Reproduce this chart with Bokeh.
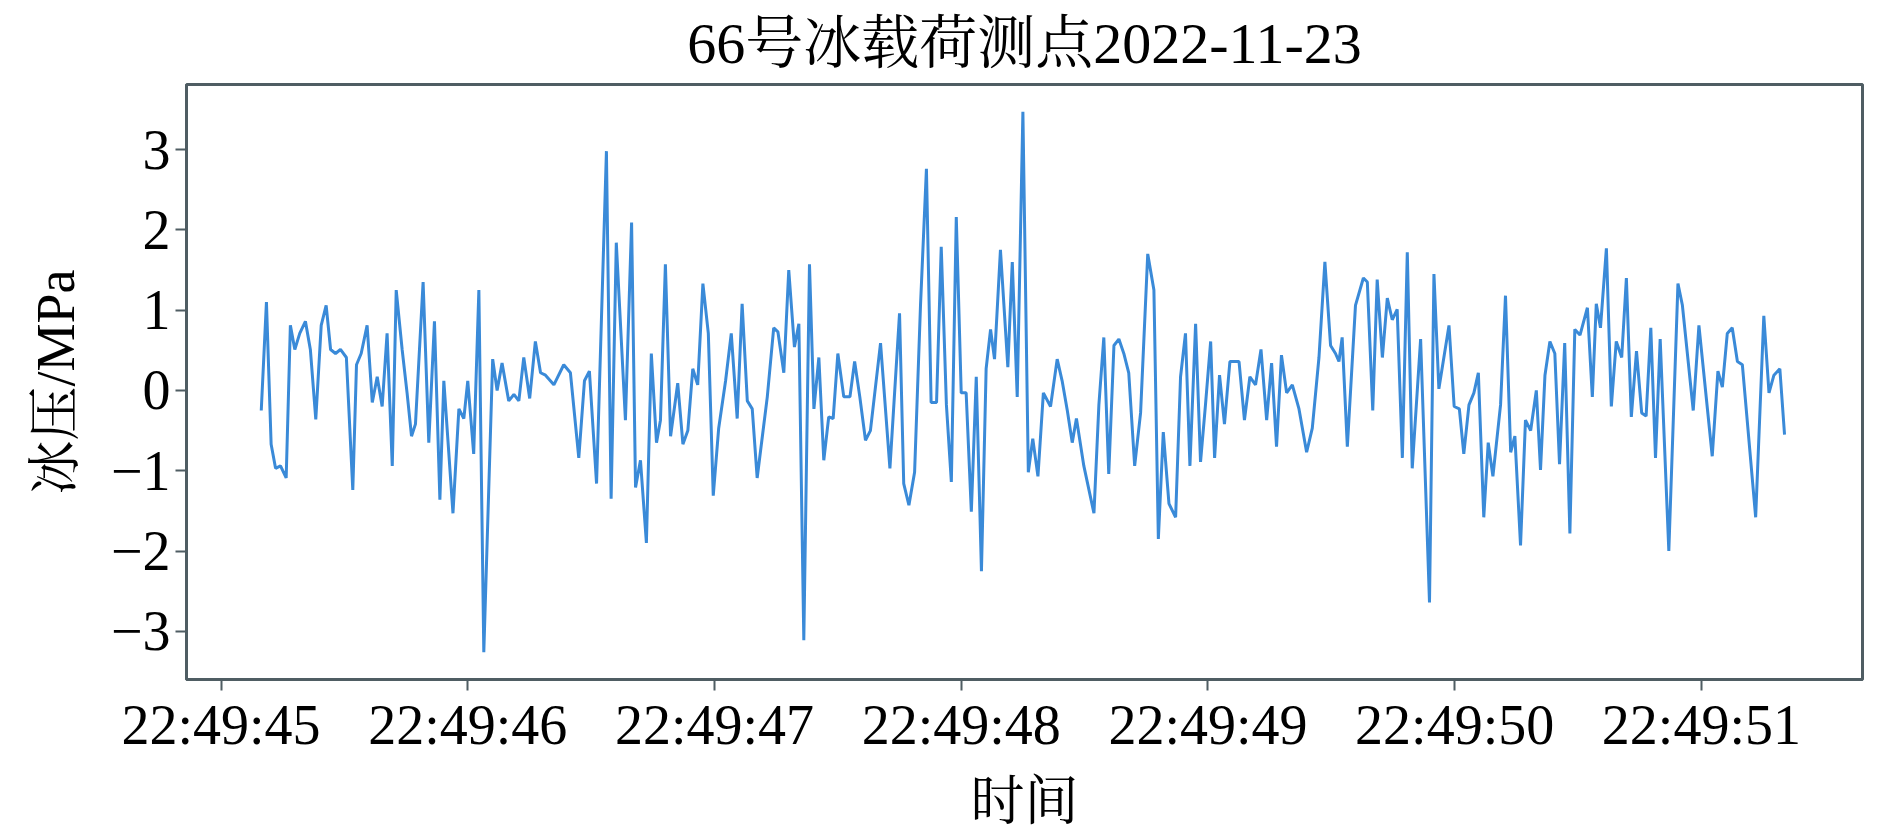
import pandas as pd
from bokeh.plotting import figure
from bokeh.models import Range1d, FixedTicker, DatetimeTickFormatter, CustomJSTickFormatter
from bokeh.embed import file_html
from bokeh.resources import INLINE

# ---- data ----
title_text = "66号冰载荷测点2022-11-23"
x_label = "时间"
y_label = "冰压/MPa"
base_time = "2022-11-23 22:49:45"
tick_seconds = [0, 1, 2, 3, 4, 5, 6]          # 22:49:45 ... 22:49:51
y_ticks = [-3, -2, -1, 0, 1, 2, 3]

# sample times, ms after 22:49:45
t_ms = [163, 184, 203, 221, 241, 264, 281, 299, 319, 342, 362, 384, 406, 426, 444, 464, 484, 508, 534, 549,
        568, 592, 613, 633, 653, 673, 694, 710, 734, 754, 772, 788, 819, 842, 865, 887, 903, 940, 964, 984,
        1000, 1024, 1045, 1065, 1101, 1119, 1139, 1166, 1187, 1207, 1227, 1251, 1274, 1295, 1315, 1349, 1389, 1416, 1450, 1473,
        1493, 1522, 1562, 1581, 1602, 1639, 1664, 1680, 1700, 1724, 1744, 1765, 1781, 1801, 1822, 1851, 1872, 1892, 1912, 1932,
        1953, 1975, 1995, 2017, 2045, 2068, 2092, 2112, 2133, 2153, 2173, 2214, 2240, 2257, 2281, 2301, 2324, 2342, 2362, 2385,
        2403, 2423, 2443, 2463, 2481, 2500, 2524, 2549, 2568, 2589, 2612, 2632, 2673, 2711, 2750, 2767, 2788, 2811, 2835, 2859,
        2878, 2900, 2919, 2940, 2960, 2980, 3000, 3020, 3041, 3061, 3082, 3101, 3119, 3135, 3159, 3189, 3207, 3227, 3250, 3272,
        3290, 3311, 3333, 3362, 3389, 3409, 3430, 3450, 3467, 3497, 3538, 3558, 3578, 3598, 3619, 3639, 3659, 3679, 3703, 3727,
        3756, 3781, 3799, 3819, 3842, 3869, 3889, 3909, 3927, 3950, 3970, 3990, 4011, 4027, 4047, 4067, 4089, 4126, 4148, 4170,
        4193, 4215, 4238, 4258, 4278, 4298, 4319, 4342, 4369, 4400, 4423, 4450, 4474, 4497, 4517, 4531, 4544, 4565, 4598, 4630,
        4646, 4668, 4686, 4707, 4727, 4747, 4767, 4788, 4808, 4828, 4862, 4898, 4916, 4936, 4977, 4998, 5019, 5037, 5058, 5078,
        5096, 5118, 5136, 5155, 5186, 5206, 5227, 5244, 5267, 5287, 5308, 5331, 5348, 5366, 5386, 5406, 5425, 5446, 5467, 5487,
        5508, 5538, 5558, 5574, 5591, 5615, 5635, 5655, 5677, 5696, 5716, 5737, 5758, 5776, 5795, 5814, 5833, 5868, 5905, 5923,
        5967, 5990, 6044, 6067, 6085, 6105, 6125, 6146, 6166, 6220, 6253, 6274, 6294, 6318, 6337]

# ice pressure, MPa
pressure = [-0.25, 1.10, -0.67, -0.97, -0.94, -1.09, 0.81, 0.51, 0.71, 0.86, 0.51, -0.36, 0.81, 1.06, 0.51, 0.46, 0.51, 0.41, -1.24, 0.32,
            0.46, 0.81, -0.15, 0.17, -0.20, 0.71, -0.94, 1.25, 0.51, -0.03, -0.57, -0.42, 1.35, -0.65, 0.86, -1.36, 0.12, -1.53, -0.23, -0.35,
            0.12, -0.79, 1.25, -3.26, 0.39, 0.00, 0.34, -0.13, -0.05, -0.13, 0.41, -0.10, 0.61, 0.22, 0.19, 0.07, 0.32, 0.22, -0.84, 0.12,
            0.24, -1.16, 2.98, -1.35, 1.84, -0.37, 2.09, -1.21, -0.87, -1.90, 0.46, -0.65, -0.37, 1.57, -0.57, 0.09, -0.67, -0.50, 0.27, 0.07,
            1.33, 0.71, -1.31, -0.47, 0.12, 0.71, -0.35, 1.08, -0.13, -0.23, -1.09, -0.08, 0.78, 0.73, 0.22, 1.50, 0.54, 0.83, -3.11, 1.57,
            -0.23, 0.41, -0.87, -0.33, -0.35, 0.46, -0.08, -0.08, 0.36, -0.08, -0.62, -0.50, 0.59, -0.97, 0.96, -1.16, -1.43, -1.02, 1.06, 2.76,
            -0.15, -0.15, 1.79, -0.18, -1.14, 2.16, -0.03, -0.03, -1.51, 0.17, -2.25, 0.27, 0.76, 0.39, 1.75, 0.29, 1.60, -0.08, 3.47, -1.02,
            -0.60, -1.07, -0.03, -0.20, 0.39, 0.12, -0.25, -0.65, -0.35, -0.94, -1.53, -0.18, 0.66, -1.04, 0.56, 0.64, 0.46, 0.22, -0.94, -0.28,
            1.70, 1.25, -1.85, -0.52, -1.41, -1.58, 0.17, 0.71, -0.94, 0.83, -0.89, -0.18, 0.61, -0.84, 0.19, -0.42, 0.36, 0.36, -0.37, 0.17,
            0.07, 0.51, -0.37, 0.34, -0.70, 0.44, -0.03, 0.07, -0.23, -0.77, -0.47, 0.41, 1.60, 0.56, 0.46, 0.36, 0.66, -0.70, 1.06, 1.40,
            1.35, -0.25, 1.38, 0.41, 1.15, 0.88, 1.01, -0.84, 1.72, -0.97, 0.64, -2.64, 1.45, 0.02, 0.81, -0.20, -0.23, -0.79, -0.18, -0.03,
            0.22, -1.58, -0.65, -1.07, -0.18, 1.18, -0.77, -0.57, -1.93, -0.37, -0.50, 0.00, -0.99, 0.19, 0.61, 0.46, -0.92, 0.59, -1.78, 0.76,
            0.69, 1.03, -0.08, 1.08, 0.78, 1.77, -0.20, 0.61, 0.41, 1.40, -0.33, 0.49, -0.28, -0.32, 0.78, -0.84, 0.64, -2.00, 1.33, 1.06,
            -0.25, 0.81, -0.82, 0.24, 0.04, 0.71, 0.78, 0.36, 0.32, -1.58, 0.93, -0.03, 0.19, 0.27, -0.55]

# ---- build ----
base = pd.Timestamp(base_time)
times = [base + pd.Timedelta(milliseconds=m) for m in t_ms]
tick_ms = [(base + pd.Timedelta(seconds=s)).value / 1e6 for s in tick_seconds]

SERIF = "Liberation Serif, Noto Serif CJK SC, Noto Sans CJK SC"

p = figure(width=1890, height=834, x_axis_type="datetime",
           output_backend="svg", toolbar_location=None,
           x_range=Range1d(base - pd.Timedelta(milliseconds=140), base + pd.Timedelta(milliseconds=6653)),
           y_range=Range1d(-3.60, 3.81))
p.min_border_left = 186
p.min_border_right = 28
p.min_border_top = 84
p.min_border_bottom = 155

p.line(times, pressure, line_color="#3a8ad8", line_width=3)

p.title.text = title_text
p.title.align = "center"
p.title.text_font = SERIF
p.title.text_font_size = "58px"
p.title.text_font_style = "normal"
p.title.text_color = "black"
p.title.standoff = 17

p.xgrid.visible = False
p.ygrid.visible = False
p.outline_line_color = "#4f5d63"
p.outline_line_width = 3

p.xaxis.ticker = FixedTicker(ticks=tick_ms)
p.xaxis.formatter = DatetimeTickFormatter(seconds="%H:%M:%S", milliseconds="%H:%M:%S",
                                          minutes="%H:%M:%S", hours="%H:%M:%S")
p.yaxis.ticker = FixedTicker(ticks=y_ticks)
p.yaxis.formatter = CustomJSTickFormatter(code="return tick < 0 ? '\u2212' + Math.abs(tick) : String(tick);")

for ax in (p.xaxis[0], p.yaxis[0]):
    ax.major_label_text_font = SERIF
    ax.major_label_text_font_size = "56px"
    ax.major_label_text_color = "black"
    ax.axis_label_text_font = SERIF
    ax.axis_label_text_font_size = "54px"
    ax.axis_label_text_font_style = "normal"
    ax.axis_label_text_color = "black"
    ax.axis_line_color = "#4f5d63"
    ax.axis_line_width = 3
    ax.major_tick_line_color = "#4f5d63"
    ax.major_tick_line_width = 2
    ax.major_tick_in = 0
    ax.major_tick_out = 11
    ax.minor_tick_line_color = None

p.xaxis.axis_label = x_label
p.yaxis.axis_label = y_label
p.xaxis.major_label_standoff = 3
p.xaxis.axis_label_standoff = 13
p.yaxis.major_label_standoff = 5
p.yaxis.axis_label_standoff = 22

open("out.html", "w").write(file_html(p, INLINE))
